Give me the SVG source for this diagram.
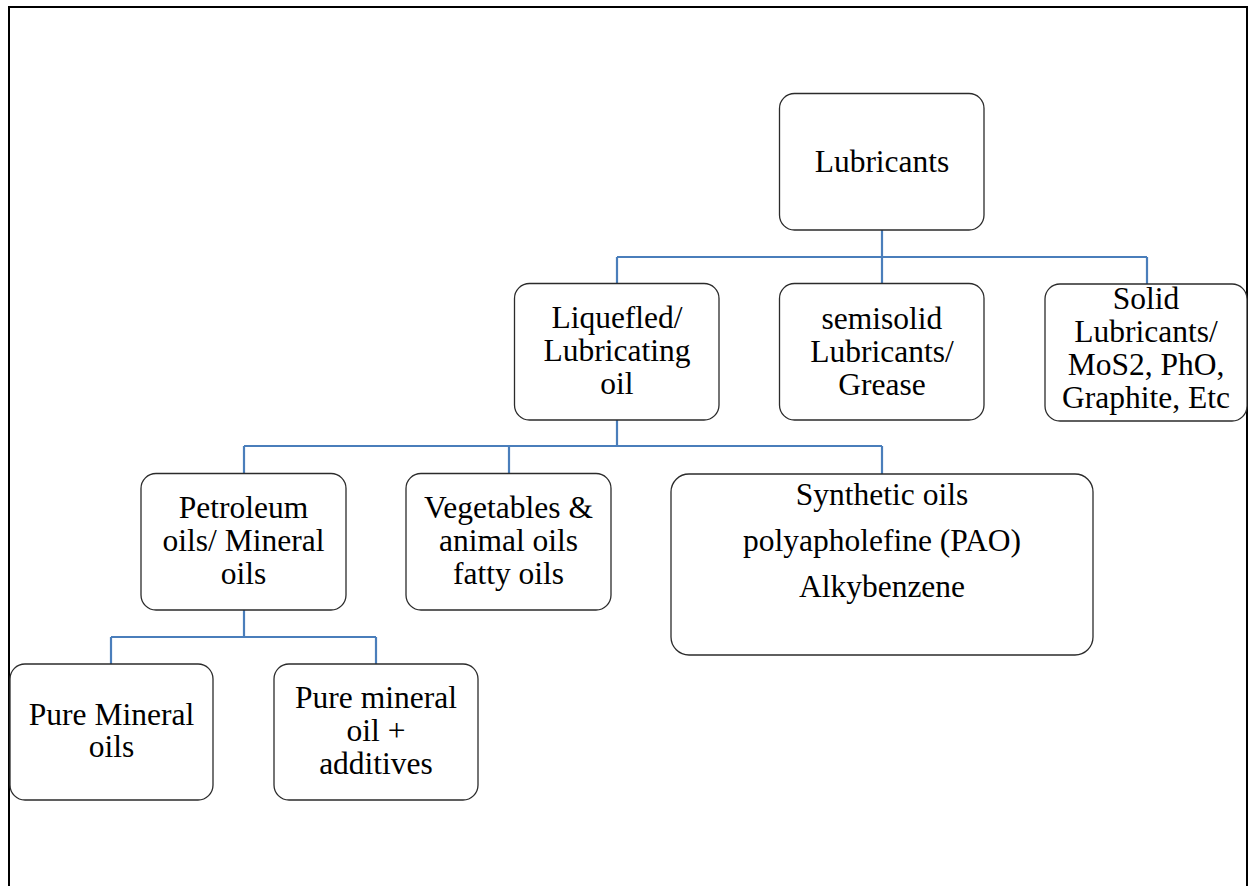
<svg xmlns="http://www.w3.org/2000/svg" width="1249" height="886" viewBox="0 0 1249 886">
<style>
.box{fill:#fff;stroke:#2b2b2b;stroke-width:1.3}
.t{font-family:"Liberation Serif","Times New Roman",serif;font-size:31.5px;fill:#000;text-anchor:middle}
.c{fill:none;stroke:#4a7ebb;stroke-width:2.2}
.frame{fill:none;stroke:#000;stroke-width:2}
</style>
<rect x="0" y="0" width="1249" height="886" fill="#fff"/>
<path class="frame" d="M9,886 V7 H1247 V886"/>
<g id="connectors">
<path class="c" d="M882,230 V257 M617,257 H1147 M617,257 V284 M882,257 V284 M1147,257 V284"/>
<path class="c" d="M617,420 V446 M244,446 H882 M244,446 V473 M509,446 V473 M882,446 V474"/>
<path class="c" d="M244,610 V637 M111,637 H376 M111,637 V664 M376,637 V664"/>
</g>
<g id="lubricants">
<rect class="box" x="779.5" y="93.5" width="204.5" height="136.5" rx="15"/>
<text class="t" x="882" y="172">Lubricants</text>
</g>
<g id="liquefied">
<rect class="box" x="514.5" y="283.5" width="204.5" height="136.5" rx="15"/>
<text class="t" x="617" y="328">Liquefled/</text>
<text class="t" x="617" y="361">Lubricating</text>
<text class="t" x="617" y="394">oil</text>
</g>
<g id="semisolid">
<rect class="box" x="779.5" y="283.5" width="204.5" height="136.5" rx="15"/>
<text class="t" x="882" y="329">semisolid</text>
<text class="t" x="882" y="362">Lubricants/</text>
<text class="t" x="882" y="395">Grease</text>
</g>
<g id="solid">
<rect class="box" x="1045" y="284" width="202" height="137" rx="15"/>
<text class="t" x="1146" y="309">Solid</text>
<text class="t" x="1146" y="342">Lubricants/</text>
<text class="t" x="1146" y="375">MoS2, PhO,</text>
<text class="t" x="1146" y="408">Graphite, Etc</text>
</g>
<g id="petroleum">
<rect class="box" x="141" y="473.5" width="205" height="136.5" rx="15"/>
<text class="t" x="243.5" y="518">Petroleum</text>
<text class="t" x="243.5" y="551">oils/ Mineral</text>
<text class="t" x="243.5" y="584">oils</text>
</g>
<g id="vegetables">
<rect class="box" x="406" y="473.5" width="205" height="136.5" rx="15"/>
<text class="t" x="508.5" y="518">Vegetables &amp;</text>
<text class="t" x="508.5" y="551">animal oils</text>
<text class="t" x="508.5" y="584">fatty oils</text>
</g>
<g id="synthetic">
<rect class="box" x="671" y="474" width="422" height="181" rx="18"/>
<text class="t" x="882" y="505">Synthetic oils</text>
<text class="t" x="882" y="551">polyapholefine (PAO)</text>
<text class="t" x="882" y="597">Alkybenzene</text>
</g>
<g id="pure-mineral">
<rect class="box" x="10" y="664" width="203" height="136" rx="15"/>
<text class="t" x="111.5" y="725">Pure Mineral</text>
<text class="t" x="111.5" y="757">oils</text>
</g>
<g id="pure-mineral-additives">
<rect class="box" x="274" y="664" width="204" height="136" rx="15"/>
<text class="t" x="376" y="708">Pure mineral</text>
<text class="t" x="376" y="741">oil +</text>
<text class="t" x="376" y="774">additives</text>
</g>
</svg>
